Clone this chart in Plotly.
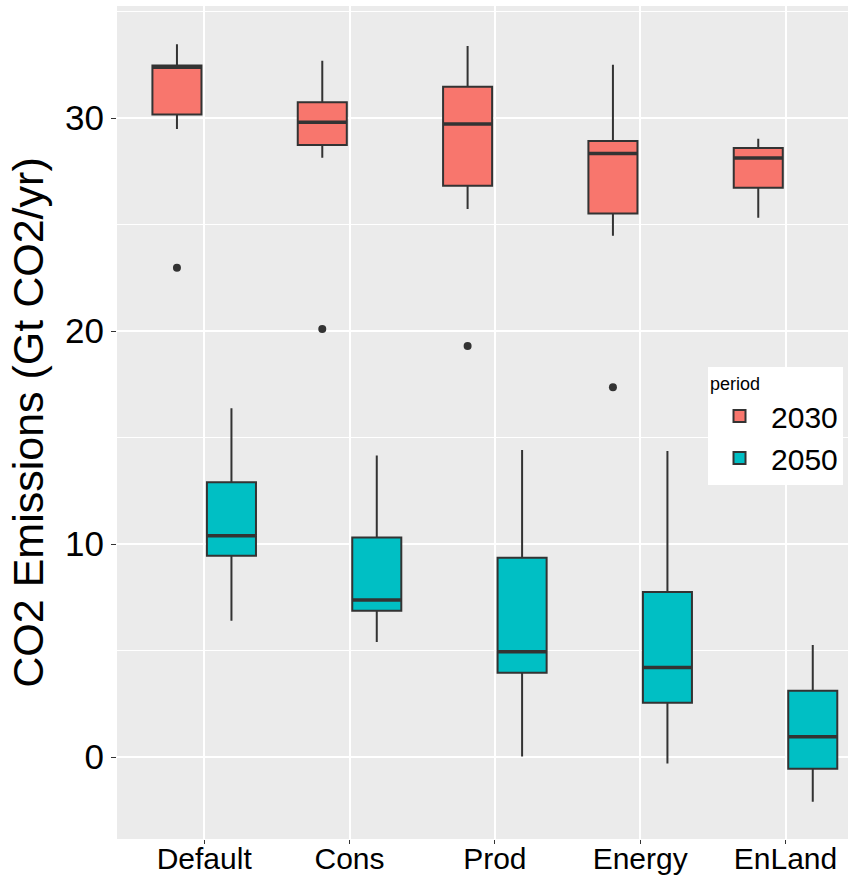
import plotly.graph_objects as go

categories = ["Default", "Cons", "Prod", "Energy", "EnLand"]
periods = ["2030", "2050"]

lower_2030 = [29.48, 28.14, 25.73, 24.47, 25.32]
q1_2030 = [30.17, 28.73, 26.82, 25.52, 26.73]
median_2030 = [32.38, 29.80, 29.72, 28.34, 28.12]
q3_2030 = [32.47, 30.74, 31.47, 28.92, 28.59]
upper_2030 = [33.47, 32.69, 33.38, 32.50, 29.03]
outlier_cat_2030 = ["Default", "Cons", "Prod", "Energy"]
outlier_val_2030 = [22.97, 20.09, 19.30, 17.36]

lower_2050 = [6.40, 5.40, 0.02, -0.30, -2.10]
q1_2050 = [9.45, 6.87, 3.96, 2.55, -0.55]
median_2050 = [10.39, 7.37, 4.94, 4.20, 0.95]
q3_2050 = [12.90, 10.31, 9.36, 7.75, 3.11]
upper_2050 = [16.37, 14.15, 14.41, 14.37, 5.26]
outlier_cat_2050 = []
outlier_val_2050 = []

colors = {"2030": "#F8766D", "2050": "#00BFC4"}
line_col = "#333333"

stats = {
    "2030": (lower_2030, q1_2030, median_2030, q3_2030, upper_2030, outlier_cat_2030, outlier_val_2030),
    "2050": (lower_2050, q1_2050, median_2050, q3_2050, upper_2050, outlier_cat_2050, outlier_val_2050),
}

# ggplot-like dodge: total width 0.75, padding 0.1
dodge_total = 0.75
n = len(periods)
slot = dodge_total / n
box_w = slot * 0.9
offsets = {p: -dodge_total / 2 + slot * (i + 0.5) for i, p in enumerate(periods)}
idx = {c: i for i, c in enumerate(categories)}

fig = go.Figure()
for p in periods:
    lo, q1, med, q3, up, oc, ov = stats[p]
    xs = [idx[c] + offsets[p] for c in categories]
    fig.add_trace(go.Box(
        name=p, x=xs, q1=q1, median=med, q3=q3, lowerfence=lo, upperfence=up,
        width=box_w, fillcolor=colors[p], line=dict(color=line_col, width=2),
        whiskerwidth=0, boxpoints=False, showlegend=True, hoverinfo="skip",
    ))
for p in periods:
    lo, q1, med, q3, up, oc, ov = stats[p]
    mx, my = [], []
    for c, m in zip(categories, med):
        x0 = idx[c] + offsets[p]
        mx += [x0 - box_w / 2, x0 + box_w / 2, None]
        my += [m, m, None]
    fig.add_trace(go.Scatter(x=mx, y=my, mode="lines", line=dict(color=line_col, width=3.5),
                             showlegend=False, hoverinfo="skip"))
    if ov:
        fig.add_trace(go.Scatter(x=[idx[c] + offsets[p] for c in oc], y=ov, mode="markers",
                                 marker=dict(color=line_col, size=8), showlegend=False, hoverinfo="skip"))

fig.update_layout(
    width=848, height=878,
    margin=dict(l=117, r=0, t=6, b=39, autoexpand=False),
    paper_bgcolor="white", plot_bgcolor="#EBEBEB",
    font=dict(family="Liberation Sans, Arial, sans-serif", color="black"),
    legend=dict(
        title=dict(text="period  ", font=dict(size=18)),
        font=dict(size=30), bgcolor="white",
        x=0.8085, y=0.567, xanchor="left", yanchor="top",
        tracegroupgap=0, itemsizing="constant", itemwidth=53,
    ),
)
fig.update_xaxes(
    range=[-0.6, 4.43], tickvals=list(range(len(categories))), ticktext=categories,
    showgrid=True, gridcolor="white", gridwidth=1.6, zeroline=False,
    ticks="outside", ticklen=4, tickcolor=line_col, tickwidth=1.2,
    tickfont=dict(size=30, color="black"), showline=False, automargin=False,
    ticklabelstandoff=-11,
)
fig.update_yaxes(
    range=[-3.85, 35.26], tickvals=[0, 10, 20, 30],
    showgrid=True, gridcolor="white", gridwidth=1.6, zeroline=False,
    minor=dict(dtick=5, tick0=5, showgrid=True, gridcolor="white", gridwidth=0.8),
    ticks="outside", ticklen=5, tickcolor=line_col, tickwidth=1.2,
    tickfont=dict(size=35, color="black"), showline=False, automargin=False,
    title=dict(text="CO2 Emissions (Gt CO2/yr)", font=dict(size=43, color="black"), standoff=8),
)

fig.write_html("out.html")
